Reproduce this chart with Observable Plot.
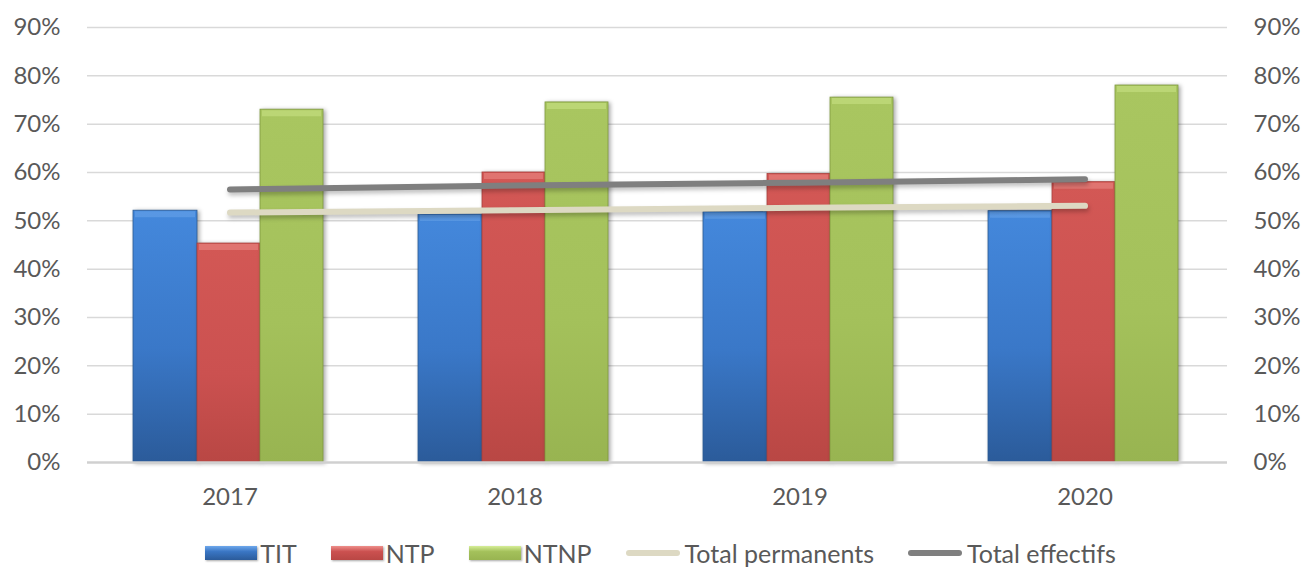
<!DOCTYPE html>
<html>
<head>
<meta charset="utf-8">
<script src="https://cdn.jsdelivr.net/npm/d3@7"></script>
<script src="https://cdn.jsdelivr.net/npm/@observablehq/plot@0.6"></script>
<style>
  body { margin: 0; background: #fff; font-family: Lato, "Open Sans", sans-serif; }
  #legend { display: flex; justify-content: center; align-items: center; height: 40px; margin-top: 18px; padding-left: 14px;
            font-size: 25px; color: #595959; gap: 34px; }
  .item { display: flex; align-items: center; gap: 3px; }
  .sw { width: 52px; height: 14px; box-shadow: 1px 1px 2px rgba(0,0,0,0.35); }
  .ln { width: 54px; height: 6px; border-radius: 3px; margin-right: 2px; }
</style>
</head>
<body>
<div id="chart"></div>
<div id="legend"></div>
<script>
// Years on the category axis
const years = ["2017", "2018", "2019", "2020"];
// Shares per staff group (%)
const tit = [52.1, 51.3, 51.8, 52.0];
const ntp = [45.3, 60.0, 59.7, 58.0];
const ntnp = [73.0, 74.5, 75.5, 78.0];
// Totals (%)
const totalPermanents = [51.7, 52.2, 52.7, 53.1];
const totalEffectifs = [56.5, 57.3, 57.9, 58.6];
// Axis ticks
const yTicks = [0, 10, 20, 30, 40, 50, 60, 70, 80, 90];

const rows = (vals) => years.map((year, i) => ({year, value: vals[i]}));

// Each bar series sits at a fixed offset inside its year band
const series = [
  {name: "TIT", data: rows(tit), fill: "url(#gTIT)", stroke: "#2c5a92", bevel: "#6ea8ec", insetLeft: 46, insetRight: 175},
  {name: "NTP", data: rows(ntp), fill: "url(#gNTP)", stroke: "#a8403c", bevel: "#ee8f8b", insetLeft: 110, insetRight: 112},
  {name: "NTNP", data: rows(ntnp), fill: "url(#gNTNP)", stroke: "#7f9a3f", bevel: "#cde58a", insetLeft: 173, insetRight: 49}
];

const barMarks = series.flatMap(s => [
  Plot.barY(s.data, {x: "year", y: "value", fill: s.fill, stroke: s.stroke, strokeWidth: 0.8,
    insetLeft: s.insetLeft, insetRight: s.insetRight}),
  Plot.tickY(s.data, {x: "year", y: "value", stroke: s.bevel, strokeWidth: 6, dy: 3.5, strokeOpacity: 0.5,
    insetLeft: s.insetLeft + 2, insetRight: s.insetRight + 2})
]);

const chart = Plot.plot({
  width: 1307,
  height: 515,
  marginTop: 27,
  marginBottom: 53,
  marginLeft: 87,
  marginRight: 80,
  style: {fontFamily: "Lato, 'Open Sans', sans-serif", color: "#595959", background: "#fff"},
  x: {domain: years, padding: 0, label: null},
  y: {domain: [0, 90], label: null},
  marks: [
    Plot.gridY(yTicks.filter(d => d > 0), {stroke: "#d9d9d9", strokeOpacity: 1, strokeWidth: 1.5}),
    ...barMarks,
    Plot.ruleY([0], {stroke: "#d0d0d0", strokeWidth: 2.5}),
    Plot.lineY(rows(totalPermanents), {x: "year", y: "value", stroke: "#ddd9c3", strokeWidth: 6, strokeLinecap: "round"}),
    Plot.lineY(rows(totalEffectifs), {x: "year", y: "value", stroke: "#7f7f7f", strokeWidth: 6, strokeLinecap: "round"}),
    Plot.axisY(yTicks, {anchor: "left", tickSize: 0, tickPadding: 27, fontSize: 24, tickFormat: d => d + "%", label: null}),
    Plot.axisY(yTicks, {anchor: "right", tickSize: 0, tickPadding: 26, fontSize: 24, tickFormat: d => d + "%", label: null}),
    Plot.axisX({tickSize: 0, tickPadding: 25, fontSize: 24, label: null})
  ]
});

// Gradients for the bar fills
const svg = d3.select(chart.tagName === "svg" ? chart : chart.querySelector("svg"));
const defs = svg.insert("defs", ":first-child");
const grads = [
  {id: "gTIT", stops: [["0%", "#4488dc"], ["55%", "#3a78c8"], ["100%", "#2b5b9a"]]},
  {id: "gNTP", stops: [["0%", "#d35855"], ["60%", "#cb5150"], ["100%", "#b94744"]]},
  {id: "gNTNP", stops: [["0%", "#a9c660"], ["60%", "#a4c15b"], ["100%", "#98b451"]]}
];
for (const g of grads) {
  const lg = defs.append("linearGradient").attr("id", g.id).attr("x1", 0).attr("y1", 0).attr("x2", 0).attr("y2", 1);
  for (const [o, c] of g.stops) lg.append("stop").attr("offset", o).attr("stop-color", c);
}
// Soft shadows under bars and lines
svg.selectAll('g[aria-label="bar"]').style("filter", "drop-shadow(2px 1px 2px rgba(0,0,0,0.35))");
svg.selectAll('g[aria-label="line"]').style("filter", "drop-shadow(1px 3px 2px rgba(0,0,0,0.25))");

document.getElementById("chart").appendChild(chart);

// Legend below the plot
const legendItems = [
  {label: "TIT", kind: "sw", bg: "linear-gradient(#6ea8ec, #3a76c4 40%, #2b5b9a)"},
  {label: "NTP", kind: "sw", bg: "linear-gradient(#ee8f8b, #cb5150 40%, #b94744)"},
  {label: "NTNP", kind: "sw", bg: "linear-gradient(#d6ee98, #a4c15b 40%, #98b451)"},
  {label: "Total permanents", kind: "ln", bg: "#ddd9c3"},
  {label: "Total effectifs", kind: "ln", bg: "#7f7f7f"}
];
const legend = d3.select("#legend");
for (const it of legendItems) {
  const el = legend.append("div").attr("class", "item");
  el.append("div").attr("class", it.kind).style("background", it.bg);
  el.append("span").text(it.label);
}
</script>
</body>
</html>
